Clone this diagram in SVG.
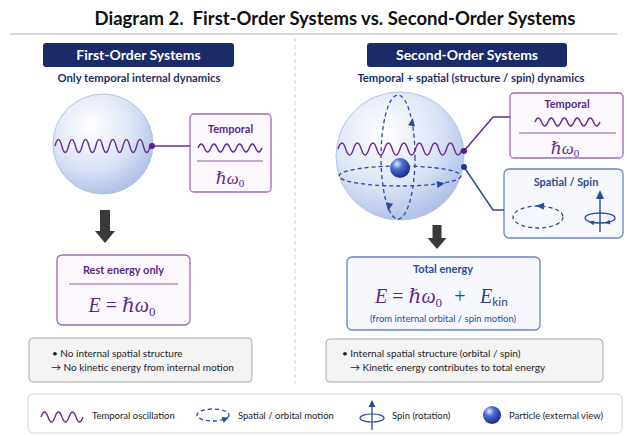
<svg xmlns="http://www.w3.org/2000/svg" width="627" height="436" viewBox="0 0 627 436">
<style>
text{font-family:Lato,"Open Sans","Liberation Sans",sans-serif}
.title{font-size:18.5px;font-weight:700;fill:#111}
.hdr{font-size:14px;font-weight:700;fill:#fff}
.sub{font-size:11.3px;font-weight:700;fill:#1e2f6e}
.pl{font-size:11px;font-weight:700;fill:#5b2a86}
.bl{font-size:11px;font-weight:700;fill:#2b4c9b}
.note{font-size:10px;fill:#222}
.leg{font-size:9.5px;fill:#222}
.math{font-family:"Liberation Serif","DejaVu Serif",serif;font-style:italic}
.wave{fill:none;stroke:#6a2c91;stroke-width:1.4}
.orb{fill:none;stroke:#2b4c9b;stroke-width:1.3;stroke-dasharray:4 3}
.pbox{fill:#fcf8fe;stroke:#9a6cb6;stroke-width:1.3}
.bbox{fill:#f6f8fd;stroke:#6a86c2;stroke-width:1.3}
.nbox{fill:#f4f4f4;stroke:#a9a9a9;stroke-width:1}
.hbox{fill:#1b2b68}
.ah{fill:#2b4c9b}
.down{fill:#3a3a3a}
</style>
<defs>
<radialGradient id="sph" cx="0.38" cy="0.32" r="0.72">
<stop offset="0" stop-color="#ffffff"/>
<stop offset="0.55" stop-color="#dfe6f7"/>
<stop offset="1" stop-color="#aebfe6"/>
</radialGradient>
<radialGradient id="part" cx="0.35" cy="0.3" r="0.75">
<stop offset="0" stop-color="#e8eeff"/>
<stop offset="0.35" stop-color="#4d6fd6"/>
<stop offset="1" stop-color="#15287e"/>
</radialGradient>
</defs>
<rect width="627" height="436" fill="#ffffff"/>

<g id="title">
<text class="title" x="335" y="25" text-anchor="middle" xml:space="preserve">Diagram 2.  First-Order Systems vs. Second-Order Systems</text>
<line x1="10" y1="34" x2="617" y2="34" stroke="#b0b0b0" stroke-width="1"/>
<line x1="295" y1="38" x2="295" y2="384" stroke="#cfcfcf" stroke-width="1" stroke-dasharray="4 3"/>
</g>

<!-- LEFT -->
<g id="first-header">
<rect class="hbox" x="43" y="43" width="191" height="24" rx="3"/>
<text class="hdr" x="138.5" y="60" text-anchor="middle">First-Order Systems</text>
<text class="sub" x="139" y="82" text-anchor="middle">Only temporal internal dynamics</text>
</g>

<g id="first-sphere">
<circle cx="103" cy="144" r="50" fill="url(#sph)" stroke="#b3c1e2" stroke-width="1"/>
<path class="wave" d="M55 146 q3.4 -13 6.8 0 t6.8 0 t6.8 0 t6.8 0 t6.8 0 t6.8 0 t6.8 0 t6.8 0 t6.8 0 t6.8 0 t6.8 0 t6.8 0 t6.8 0 t6.8 0"/>
</g>

<g id="first-temporal">
<rect class="pbox" x="190" y="114" width="81" height="78" rx="4"/>
<text class="pl" x="230.5" y="133" text-anchor="middle">Temporal</text>
<path class="wave" d="M198 148 q3.2 -8 6.4 0 t6.4 0 t6.4 0 t6.4 0 t6.4 0 t6.4 0 t6.4 0 t6.4 0 t6.4 0 t6.4 0"/>
<line x1="197" y1="161" x2="263" y2="161" stroke="#8a5aa8" stroke-width="1.2"/>
<text class="math" x="230" y="184" font-size="17" fill="#5b2a86" text-anchor="middle">ℏω<tspan font-style="normal" font-size="11" dy="3">0</tspan></text>
</g>

<g id="first-rest">
<rect class="pbox" x="57" y="255" width="133" height="70" rx="5"/>
<text class="pl" x="123.5" y="274" text-anchor="middle">Rest energy only</text>
<line x1="69" y1="284" x2="178" y2="284" stroke="#8a5aa8" stroke-width="1.2"/>
<text class="math" x="122" y="312" font-size="20" fill="#5b2a86" text-anchor="middle">E <tspan font-style="normal">=</tspan> ℏω<tspan font-style="normal" font-size="13" dy="4">0</tspan></text>
</g>

<g id="first-note">
<rect class="nbox" x="29" y="338" width="223" height="44" rx="4"/>
<text class="note" x="52" y="357">• No internal spatial structure</text>
<text class="note" x="51" y="371">→ No kinetic energy from internal motion</text>
</g>

<!-- RIGHT -->
<g id="second-header">
<rect class="hbox" x="367" y="43" width="200" height="24" rx="3"/>
<text class="hdr" x="467" y="60" text-anchor="middle">Second-Order Systems</text>
<text class="sub" x="471" y="82" text-anchor="middle">Temporal + spatial (structure / spin) dynamics</text>
</g>

<g id="second-sphere">
<circle cx="400" cy="156" r="64" fill="url(#sph)" stroke="#b3c1e2" stroke-width="1"/>
<ellipse class="orb" cx="398" cy="157" rx="17" ry="62"/>
<ellipse class="orb" cx="400" cy="176" rx="61" ry="10"/>
<polygon class="ah" points="0,-5 3.5,3 -3.5,3" transform="translate(412,123) rotate(10)"/>
<polygon class="ah" points="0,-5 3.5,3 -3.5,3" transform="translate(389,206) rotate(192)"/>
<polygon class="ah" points="0,-5 3.5,3 -3.5,3" transform="translate(440,184) rotate(82)"/>
<circle cx="400" cy="168" r="10" fill="url(#part)"/>
<path class="wave" d="M338 149 q3.9 -12 7.75 0 t7.75 0 t7.75 0 t7.75 0 t7.75 0 t7.75 0 t7.75 0 t7.75 0 t7.75 0 t7.75 0 t7.75 0 t7.75 0 t7.75 0 t7.75 0 t7.75 0 t7.75 0"/>
</g>

<g id="second-temporal">
<rect class="pbox" x="510" y="93" width="113" height="65" rx="4"/>
<text class="pl" x="567" y="108" text-anchor="middle">Temporal</text>
<path class="wave" d="M535 122 q3.25 -8 6.5 0 t6.5 0 t6.5 0 t6.5 0 t6.5 0 t6.5 0 t6.5 0 t6.5 0 t6.5 0 t6.5 0"/>
<line x1="519" y1="133" x2="616" y2="133" stroke="#8a5aa8" stroke-width="1.2"/>
<text class="math" x="565" y="154" font-size="17" fill="#5b2a86" text-anchor="middle">ℏω<tspan font-style="normal" font-size="11" dy="3">0</tspan></text>
</g>

<g id="second-spatial">
<rect class="bbox" x="504" y="169" width="119" height="69" rx="5"/>
<text class="bl" x="566" y="186" text-anchor="middle">Spatial / Spin</text>
<ellipse class="orb" cx="538" cy="217" rx="25" ry="11"/>
<polygon class="ah" points="0,-5 3.5,3 -3.5,3" transform="translate(541,206) rotate(-86)"/>
<line x1="600" y1="232" x2="600" y2="197" stroke="#2b4c9b" stroke-width="1.4"/>
<polygon class="ah" points="600,190 596,199 604,199"/>
<ellipse cx="600" cy="218" rx="15" ry="5" fill="none" stroke="#2b4c9b" stroke-width="1.3"/>
<polygon class="ah" points="0,-3 2.5,2 -2.5,2" transform="translate(592,222.5) rotate(-80)"/>
<polygon class="ah" points="0,-3 2.5,2 -2.5,2" transform="translate(608,222.5) rotate(-100)"/>
</g>

<g id="second-total">
<rect class="bbox" x="347" y="257" width="193" height="73" rx="5"/>
<text class="bl" x="443" y="273" text-anchor="middle">Total energy</text>
<text class="math" x="375" y="303" font-size="20" fill="#5b2a86">E <tspan font-style="normal">=</tspan> ℏω<tspan font-style="normal" font-size="13" dy="4">0</tspan></text>
<text x="460" y="303" font-size="20" fill="#2b3f8a" text-anchor="middle" style="font-family:'Liberation Serif',serif">+</text>
<text class="math" x="480" y="303" font-size="20" fill="#2b3f8a">E<tspan font-style="normal" font-size="12" dy="3" style="font-family:Lato,sans-serif">kin</tspan></text>
<text x="443" y="322" font-size="9.5" fill="#2b4c9b" text-anchor="middle">(from internal orbital / spin motion)</text>
</g>

<g id="second-note">
<rect class="nbox" x="326" y="339" width="277" height="43" rx="4"/>
<text class="note" x="342" y="357">• Internal spatial structure (orbital / spin)</text>
<text class="note" x="350" y="371">→ Kinetic energy contributes to total energy</text>
</g>

<g id="connectors">
<line x1="152" y1="146" x2="190" y2="146" stroke="#6a2c91" stroke-width="1.5"/>
<circle cx="152" cy="146" r="3" fill="#5b2086"/>
<polyline points="464,151 493,117 510,117" fill="none" stroke="#6a2c91" stroke-width="1.5"/>
<circle cx="464" cy="151" r="3" fill="#5b2086"/>
<polyline points="464,167 493,210 504,210" fill="none" stroke="#2b4c9b" stroke-width="1.5"/>
<circle cx="464" cy="167" r="3" fill="#1e3a8a"/>
<path class="down" d="M100 210 h10 v21 h5 l-10 12 l-10 -12 h5 z"/>
<path class="down" d="M432.5 225 h9 v13 h5 l-9.5 11 l-9.5 -11 h5 z"/>
</g>

<g id="legend">
<rect x="28" y="394" width="594" height="39" rx="5" fill="#fff" stroke="#d4d4d4" stroke-width="1"/>
<path class="wave" d="M41 417 q3.5 -10 7 0 t7 0 t7 0 t7 0 t7 0 t7 0"/>
<text class="leg" x="92" y="418.5">Temporal oscillation</text>
<ellipse class="orb" cx="213" cy="415" rx="16" ry="6" stroke-width="1.1" stroke-dasharray="3 2.5"/>
<polygon class="ah" points="0,-4 3,2.5 -3,2.5" transform="translate(225,419) rotate(70)"/>
<text class="leg" x="238" y="418.5">Spatial / orbital motion</text>
<line x1="372" y1="430" x2="372" y2="405" stroke="#2b4c9b" stroke-width="1.3"/>
<polygon class="ah" points="372,400 368.5,407 375.5,407"/>
<ellipse cx="372" cy="418" rx="12" ry="4" fill="none" stroke="#2b4c9b" stroke-width="1.2"/>
<text class="leg" x="392" y="418.5">Spin (rotation)</text>
<circle cx="492" cy="415" r="9" fill="url(#part)"/>
<text class="leg" x="509" y="418.5">Particle (external view)</text>
</g>
</svg>
